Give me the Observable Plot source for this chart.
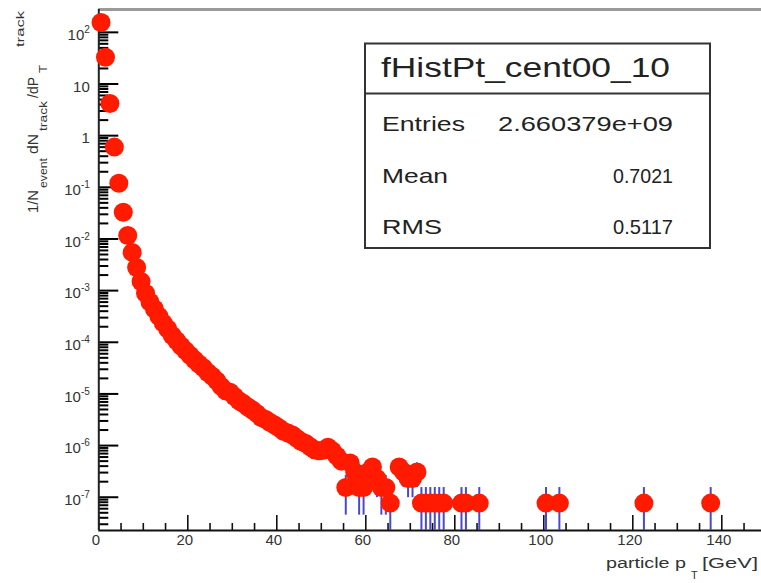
<!DOCTYPE html>
<html><head><meta charset="utf-8">
<script src="https://cdn.jsdelivr.net/npm/d3@7"></script>
<script src="https://cdn.jsdelivr.net/npm/@observablehq/plot@0.6"></script>
<style>
html,body{margin:0;padding:0;background:#fff;}
#chart{position:relative;width:761px;height:583px;overflow:hidden;}
</style></head><body><div id="chart"></div>
<script>
// ---- data ----
const bandPt = [0.5,1.5,2.5,3.5,4.5,5.5,6.5,7.5,8.5,9.5,10.5,11.5,12.5,13.5,14.5,15.5,16.5,17.5,18.5,19.5,20.5,21.5,22.5,23.5,24.5,25.5,26.5,27.5,28.5,29.5,30.5,31.5,32.5,33.5,34.5,35.5,36.5,37.5,38.5,39.5,40.5,41.5,42.5,43.5,44.5,45.5,46.5,47.5,48.5,49.5,50.5,51.5,52.5,53.5,54.5];
const bandYield = [155,33,4.2,0.6,0.12,0.033,0.0117,0.0055,0.0028,0.0015,8.9e-4,6.0e-4,4.4e-4,3.2e-4,2.35e-4,1.8e-4,1.35e-4,1.07e-4,8.5e-5,6.9e-5,5.6e-5,4.6e-5,3.8e-5,3.2e-5,2.6e-5,2.2e-5,1.8e-5,1.4e-5,1.15e-5,1.08e-5,8.9e-6,7.4e-6,6.5e-6,5.6e-6,4.9e-6,4.2e-6,3.5e-6,3.2e-6,2.8e-6,2.5e-6,2.2e-6,1.9e-6,1.75e-6,1.6e-6,1.38e-6,1.2e-6,1.1e-6,9.5e-7,8.3e-7,7.9e-7,8.1e-7,9.3e-7,7.9e-7,6.3e-7,5.0e-7];
const tailPt = [55.5,56.5,57.5,58.5,59.5,60.5,61.5,62.5,63.5,64.5,65.5,67.5,68.5,69.5,70.5,71.5,72.5,73.5,74.5,75.5,76.5,77.5,81.5,82.5,85.5,100.5,103.5,122.5,137.5];
const tailYield = [1.54e-7,4.62e-7,3.08e-7,1.54e-7,1.54e-7,3.08e-7,3.85e-7,2.31e-7,1.54e-7,1.54e-7,7.7e-8,3.85e-7,3.08e-7,2.31e-7,2.31e-7,3.08e-7,7.7e-8,7.7e-8,7.7e-8,7.7e-8,7.7e-8,7.7e-8,7.7e-8,7.7e-8,7.7e-8,7.7e-8,7.7e-8,7.7e-8,7.7e-8];
const tailErr = [1.09e-7,1.89e-7,1.54e-7,1.09e-7,1.09e-7,1.54e-7,1.72e-7,1.33e-7,1.09e-7,1.09e-7,7.7e-8,1.72e-7,1.54e-7,1.33e-7,1.33e-7,1.54e-7,7.7e-8,7.7e-8,7.7e-8,7.7e-8,7.7e-8,7.7e-8,7.7e-8,7.7e-8,7.7e-8,7.7e-8,7.7e-8,7.7e-8,7.7e-8];

const xMajorTicks = [0,20,40,60,80,100,120,140];
const xTickLabels = ["0","20","40","60","80","100","120","140"];
const yMajorTicks = [1e-7,1e-6,1e-5,1e-4,1e-3,1e-2,1e-1,1,10,100];
const yTickLabels = ["10^-7","10^-6","10^-5","10^-4","10^-3","10^-2","10^-1","1","10","10^2"];

const statsTitle = "fHistPt_cent00_10";
const statsNames = ["Entries","Mean","RMS"];
const statsValues = ["2.660379e+09","0.7021","0.5117"];

// ---- layout ----
const W = 761, H = 583, mL = 98.3, mT = 9, mB = 53, mR = 0;
const pxPerGeV = 4.45;
const plotH = H - mT - mB;
const xDomain = [0, 150], yDomain = [2.27e-8, 277];
const red = "#ff1a00", blue = "#4848d0";
const ff = "'Liberation Sans', Arial, sans-serif";

const xMinor = d3.range(5, 150, 5).filter(d => d % 20 !== 0);
const yMinor = [];
for (let e = -8; e <= 2; e++) for (let k = 2; k <= 9; k++) {
  const v = k * Math.pow(10, e);
  if (v > yDomain[0] && v < yDomain[1]) yMinor.push(v);
}
const majorLen = 20 / pxPerGeV, minorLen = 10 / pxPerGeV;

const points = bandPt.map((p, i) => ({pt: p, y: bandYield[i]}))
  .concat(tailPt.map((p, i) => ({pt: p, y: tailYield[i]})));
const bars = tailPt.map((p, i) => ({
  pt: p,
  lo: Math.max(tailYield[i] - tailErr[i], yDomain[0]),
  hi: tailYield[i] + tailErr[i]
}));

const chart = Plot.plot({
  width: W, height: H,
  marginLeft: mL, marginTop: mT, marginBottom: mB, marginRight: mR,
  x: {domain: xDomain, range: [mL, mL + pxPerGeV * 150], axis: null},
  y: {type: "log", domain: yDomain, range: [H - mB, mT], axis: null},
  style: {background: "white", fontFamily: ff},
  marks: [
    Plot.ruleY([yDomain[1]], {y: d => d, stroke: "#9a9a9a", strokeWidth: 3}),
    Plot.ruleX(xMinor, {x: d => d, insetTop: plotH - 7, stroke: "#111", strokeWidth: 1.6}),
    Plot.ruleX(xMajorTicks, {x: d => d, insetTop: plotH - 15, stroke: "#111", strokeWidth: 1.6}),
    Plot.ruleY(yMinor, {y: d => d, x1: () => 0, x2: () => minorLen, stroke: "#000", strokeWidth: 2}),
    Plot.ruleY(yMajorTicks, {y: d => d, x1: () => 0, x2: () => majorLen, stroke: "#000", strokeWidth: 2}),
    Plot.ruleX([0], {x: d => d, stroke: "#222", strokeWidth: 2}),
    Plot.ruleY([yDomain[0]], {y: d => d, stroke: "#111", strokeWidth: 2}),
    Plot.ruleX(bars, {x: "pt", y1: "lo", y2: "hi", stroke: blue, strokeWidth: 2}),
    Plot.dot(points, {x: "pt", y: "y", r: 9.5, fill: red}),
    Plot.text(xMajorTicks, {x: d => d, frameAnchor: "bottom", dy: 14, dx: -3,
      text: (d, i) => xTickLabels[i], fontSize: 15, fill: "#333"}),
    Plot.text(yMajorTicks, {y: d => d, frameAnchor: "left", dx: -9, dy: 3, textAnchor: "end",
      text: (d, i) => yTickLabels[i], fontSize: 15, fill: "#333"})
  ]
});
document.getElementById("chart").appendChild(chart);

const svg = d3.select(chart);
// superscripts on y tick labels
svg.selectAll("text").each(function() {
  const t = this.textContent;
  if (t.indexOf("^") >= 0) {
    const [base, ex] = t.split("^");
    this.textContent = base;
    d3.select(this).append("tspan").attr("dy", -7).attr("font-size", 10).text(ex);
  }
});

// y-axis title (rotated)
const yTitle = [
  {t: "1/N", y0: 213, bx: 38, fs: 14, len: 23},
  {t: "event", y0: 188, bx: 47, fs: 11, len: 30},
  {t: "dN", y0: 154, bx: 38, fs: 14, len: 20},
  {t: "track", y0: 131, bx: 47, fs: 11, len: 30},
  {t: "/dP", y0: 98, bx: 38, fs: 14, len: 21},
  {t: "T", y0: 73, bx: 47, fs: 11, len: 8},
  {t: "track", y0: 47, bx: 24, fs: 11, len: 36}
];
const gy = svg.append("g").attr("font-family", ff).attr("fill", "#333").attr("text-anchor", "start");
yTitle.forEach(p => {
  gy.append("text").attr("transform", `translate(${p.bx},${p.y0}) rotate(-90)`)
    .attr("font-size", p.fs).attr("textLength", p.len).attr("lengthAdjust", "spacingAndGlyphs").text(p.t);
});
// x-axis title
const gx = svg.append("g").attr("font-family", ff).attr("fill", "#333").attr("text-anchor", "start");
gx.append("text").attr("x", 606).attr("y", 568).attr("font-size", 14)
  .attr("textLength", 80).attr("lengthAdjust", "spacingAndGlyphs").text("particle p");
gx.append("text").attr("x", 691).attr("y", 579).attr("font-size", 11).text("T");
gx.append("text").attr("x", 702).attr("y", 568).attr("font-size", 14)
  .attr("textLength", 56).attr("lengthAdjust", "spacingAndGlyphs").text("[GeV]");

// stats box
const gs = svg.append("g").attr("font-family", ff).attr("fill", "#222").attr("text-anchor", "start");
gs.append("rect").attr("x", 365).attr("y", 43.5).attr("width", 345).attr("height", 204.5)
  .attr("fill", "white").attr("stroke", "#333").attr("stroke-width", 2);
gs.append("line").attr("x1", 365).attr("x2", 710).attr("y1", 93.5).attr("y2", 93.5)
  .attr("stroke", "#333").attr("stroke-width", 2);
gs.append("text").attr("x", 381).attr("y", 77).attr("font-size", 28)
  .attr("textLength", 289).attr("lengthAdjust", "spacingAndGlyphs").text(statsTitle);
const rowY = [131, 183, 234];
const nameLen = [83, 66, 60];
const valLen = [175, 60, 60];
statsNames.forEach((n, i) => {
  gs.append("text").attr("x", 382).attr("y", rowY[i]).attr("font-size", 21)
    .attr("textLength", nameLen[i]).attr("lengthAdjust", "spacingAndGlyphs").text(n);
  gs.append("text").attr("x", 673 - valLen[i]).attr("y", rowY[i]).attr("font-size", 21)
    .attr("textLength", valLen[i]).attr("lengthAdjust", "spacingAndGlyphs").text(statsValues[i]);
});
</script></body></html>
